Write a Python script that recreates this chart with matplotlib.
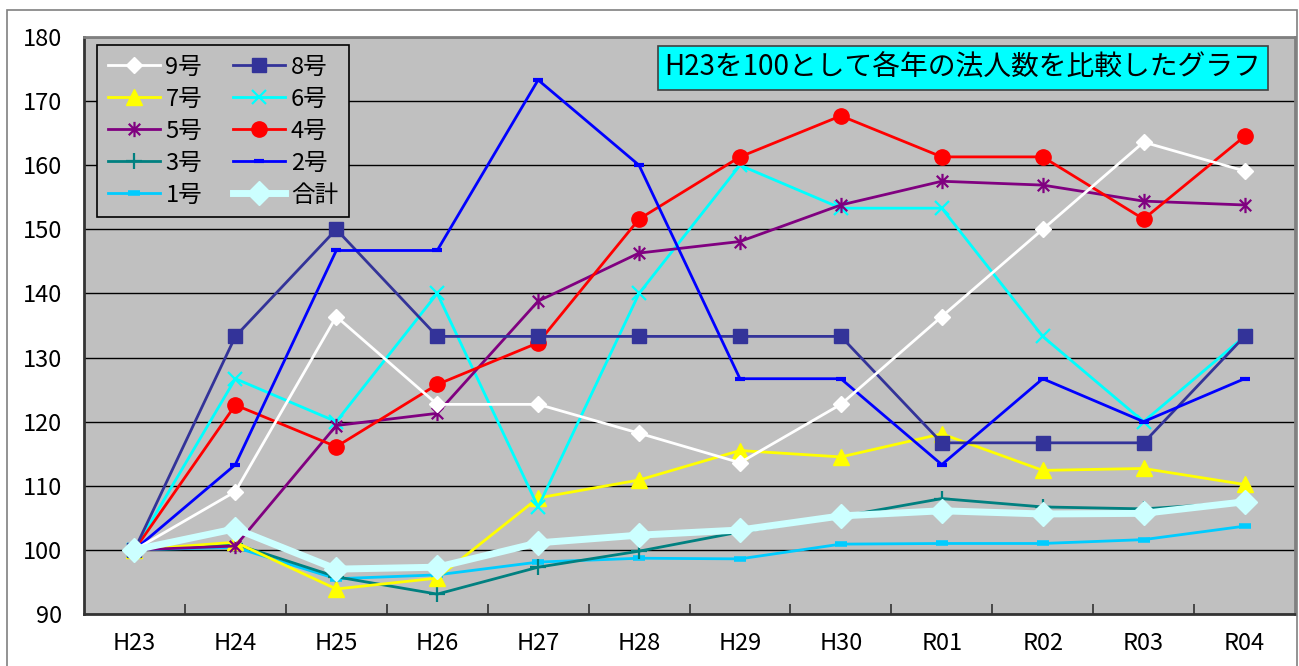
import numpy as np
import matplotlib
matplotlib.use("Agg")
import matplotlib.pyplot as plt
from matplotlib.path import Path
from matplotlib.patches import Rectangle

plt.rcParams['font.family'] = ['Noto Sans CJK JP', 'DejaVu Sans']

# ====== DATA ======
years = ["H23", "H24", "H25", "H26", "H27", "H28", "H29", "H30", "R01", "R02", "R03", "R04"]

no9 = [100, 109.1, 136.4, 122.7, 122.7, 118.2, 113.6, 122.7, 136.4, 150.0, 163.6, 159.1]
no8 = [100, 133.3, 150.0, 133.3, 133.3, 133.3, 133.3, 133.3, 116.7, 116.7, 116.7, 133.3]
no7 = [100, 101.2, 93.9, 95.6, 108.1, 110.9, 115.5, 114.5, 118.1, 112.4, 112.7, 110.2]
no6 = [100, 126.7, 120.0, 140.0, 106.7, 140.0, 160.0, 153.3, 153.3, 133.3, 120.0, 133.3]
no5 = [100, 100.6, 119.4, 121.3, 138.8, 146.3, 148.1, 153.8, 157.5, 156.9, 154.4, 153.8]
no4 = [100, 122.6, 116.1, 125.8, 132.3, 151.6, 161.3, 167.7, 161.3, 161.3, 151.6, 164.5]
no3 = [100, 100.9, 95.8, 93.1, 97.3, 99.8, 102.8, 105.2, 108.0, 106.7, 106.4, 107.4]
no2 = [100, 113.3, 146.7, 146.7, 173.3, 160.0, 126.7, 126.7, 113.3, 126.7, 120.0, 126.7]
no1 = [100, 100.4, 95.5, 96.1, 98.1, 98.7, 98.6, 100.9, 101.0, 101.0, 101.6, 103.7]
total = [100, 103.3, 97.0, 97.3, 101.1, 102.3, 103.1, 105.3, 106.1, 105.6, 105.7, 107.5]

title = "H23を100として各年の法人数を比較したグラフ"

# asterisk marker like excel (vertical + X)
ast = Path([(0, -1), (0, 1), (-0.75, -0.75), (0.75, 0.75), (-0.75, 0.75), (0.75, -0.75)],
           [Path.MOVETO, Path.LINETO, Path.MOVETO, Path.LINETO, Path.MOVETO, Path.LINETO])

# ====== FIGURE ======
fig = plt.figure(figsize=(12.99, 6.66), dpi=100)
fig.patches.append(Rectangle((7/1299, -0.01), 1290/1299, 1 - 10/666 + 0.01, transform=fig.transFigure,
                             fill=False, edgecolor="#808080", linewidth=1.2))
ax = fig.add_axes([84/1299, 1 - 614/666, 1211/1299, 577/666])
ax.set_facecolor("#c0c0c0")

x = np.arange(len(years))
lw = 2

h1, = ax.plot(x, no1, color="#00ccff", lw=lw, marker="_", ms=9, mew=4, label="1号")
h3, = ax.plot(x, no3, color="#008080", lw=lw, marker="+", ms=11, mew=1.6, label="3号")
h7, = ax.plot(x, no7, color="#ffff00", lw=lw, marker="^", ms=11, label="7号")
h6, = ax.plot(x, no6, color="#00ffff", lw=lw, marker="x", ms=10, mew=1.6, label="6号")
h5, = ax.plot(x, no5, color="#800080", lw=lw, marker=ast, ms=11, mew=1.6, label="5号")
h4, = ax.plot(x, no4, color="#ff0000", lw=lw, marker="o", ms=11, label="4号")
h8, = ax.plot(x, no8, color="#333399", lw=lw, marker="s", ms=10, label="8号")
h2, = ax.plot(x, no2, color="#0000ff", lw=lw, marker="_", ms=7, mew=3, label="2号")
h9, = ax.plot(x, no9, color="#ffffff", lw=lw, marker="D", ms=8, label="9号")
ht, = ax.plot(x, total, color="#ccffff", lw=5, marker="D", ms=12, label="合計")

ax.set_xlim(-0.5, len(years) - 0.5)
ax.set_ylim(90, 180)
ax.set_yticks(np.arange(90, 181, 10))
ax.set_xticks(x)
ax.set_xticklabels(years)
ax.set_xticks(np.arange(0.5, len(years) - 0.5, 1), minor=True)
ax.tick_params(axis="x", which="major", length=0, pad=13, labelsize=17)
ax.tick_params(axis="x", which="minor", direction="in", length=7, width=1.2, color="#333333")
ax.tick_params(axis="y", length=0, pad=16, labelsize=17)
ax.grid(axis="y", color="black", lw=1)
ax.set_axisbelow(True)

for s in ["top", "right"]:
    ax.spines[s].set_color("#808080")
    ax.spines[s].set_linewidth(2)
for s in ["left", "bottom"]:
    ax.spines[s].set_color("#333333")
    ax.spines[s].set_linewidth(2)

# legend: rows 9/8, 7/6, 5/4, 3/2, 1/合計
handles = [h9, h7, h5, h3, h1, h8, h6, h4, h2, ht]
leg = ax.legend(handles=handles, ncol=2, loc="upper left", bbox_to_anchor=((97 - 84) / 1211, 1 - 8 / 577),
                borderaxespad=0, fontsize=17, handlelength=2.2, labelspacing=0.38, columnspacing=1.3,
                handletextpad=0.25, borderpad=0.45, frameon=True, fancybox=False)
leg.get_frame().set_facecolor("#c0c0c0")
leg.get_frame().set_edgecolor("black")
leg.get_frame().set_linewidth(1.2)
leg.get_frame().set_alpha(1)

ax.text((963 - 84) / 1211, (614 - 68) / 577, title, transform=ax.transAxes, ha="center", va="center",
        fontsize=20, zorder=10,
        bbox=dict(boxstyle="square,pad=0.25", facecolor="#00ffff", edgecolor="#404040", lw=1.2))

fig.savefig("out.png", dpi=100)
